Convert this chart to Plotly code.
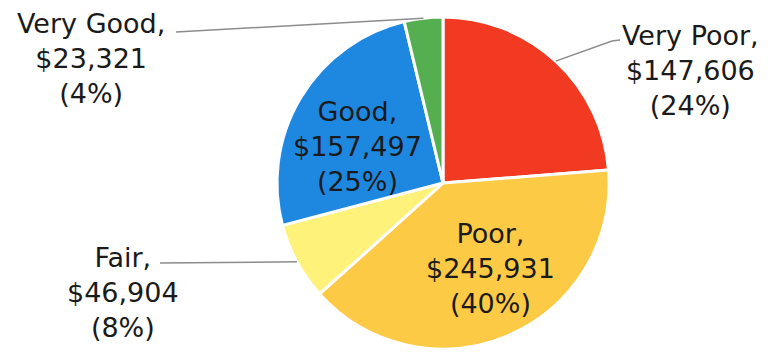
import math
import plotly.graph_objects as go

# ---- data ----
labels = ["Very Poor", "Poor", "Fair", "Good", "Very Good"]
values = [147606, 245931, 46904, 157497, 23321]
colors = ["#F23A22", "#FDCA45", "#FFF27A", "#1E88E0", "#55AE4F"]

# label placement (pixel layout, not data)
label_pos = {  # text block centre in px (x, y from top)
    "Very Poor": (690, 70),
    "Poor": (490, 268),
    "Fair": (123, 292),
    "Good": (357, 146),
    "Very Good": (91, 58),
}
leader_end = {  # where the leader line leaves the text
    "Very Poor": [(612, 41), (620, 40)],
    "Fair": [(160, 263)],
    "Very Good": [(176, 32)],
}

W, H = 773, 352
CX, CY, R = 443, 183, 166

total = sum(values)
pcts = [round(v / total * 100) for v in values]
texts = [f"{l},<br>${v:,}<br>({p}%)" for l, v, p in zip(labels, values, pcts)]

fig = go.Figure(go.Pie(
    labels=labels, values=values, sort=False, direction="clockwise",
    rotation=0, textinfo="none", hoverinfo="skip",
    marker=dict(colors=colors, line=dict(color="white", width=3)),
    domain=dict(x=[(CX - R) / W, (CX + R) / W], y=[1 - (CY + R) / H, 1 - (CY - R) / H]),
    showlegend=False,
))

def px(x, y):
    return x / W, 1 - y / H

annotations = []
shapes = []
cum = 0
for l, v, t in zip(labels, values, texts):
    mid = (cum + v / 2) / total * 2 * math.pi
    cum += v
    tx, ty = label_pos[l]
    x, y = px(tx, ty)
    annotations.append(dict(x=x, y=y, xref="paper", yref="paper", text=t,
                            xanchor="center", yanchor="middle",
                            showarrow=False, align="center",
                            font=dict(family="DejaVu Sans, Verdana, sans-serif",
                                      size=27, color="#1a1a1a")))
    if l in leader_end:
        pts = [(CX + R * math.sin(mid), CY - R * math.cos(mid))] + leader_end[l]
        path = "M " + " L ".join(f"{a / W},{1 - b / H}" for a, b in pts)
        shapes.append(dict(type="path", path=path, xref="paper", yref="paper",
                           line=dict(color="#8c8c8c", width=1.5)))

fig.update_layout(width=W, height=H, margin=dict(l=0, r=0, t=0, b=0),
                  paper_bgcolor="white", plot_bgcolor="white",
                  annotations=annotations, shapes=shapes)
fig.write_html("out.html")
